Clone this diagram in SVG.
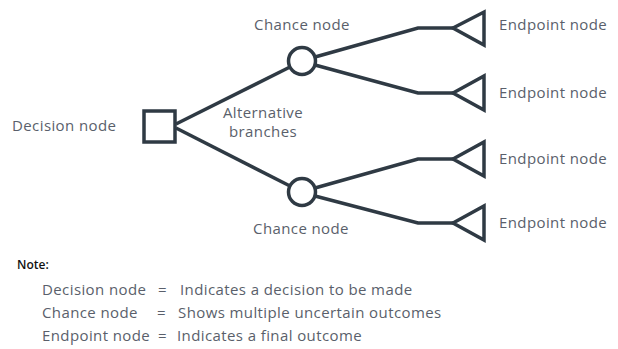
<svg xmlns="http://www.w3.org/2000/svg" width="618" height="349" viewBox="0 0 618 349">
<style>
.s{fill:none;stroke:#2f3a44;stroke-width:3.5;stroke-linejoin:miter}
.t{font-family:"Open Sans",sans-serif;font-size:15px;letter-spacing:0.4px;fill:#5a5f6b}
.n{font-family:"Open Sans",sans-serif;font-size:12px;fill:#111;font-weight:600}
</style>
<rect width="618" height="349" fill="#fff"/>
<g id="connectors" class="s">
<path d="M176,124 L290,67"/>
<path d="M176,128 L290,186"/>
<path d="M315,57 L418,28 L453,28"/>
<path d="M315,65 L418,93 L453,93"/>
<path d="M315,188 L418,159 L453,159"/>
<path d="M315,196 L418,223 L453,223"/>
</g>
<g id="decision"><rect class="s" x="144" y="111" width="31" height="31"/><text class="t" x="12" y="131">Decision node</text></g>
<g id="chance1"><circle class="s" cx="302" cy="61" r="13.5"/><text class="t" x="302" y="30" text-anchor="middle">Chance node</text></g>
<g id="chance2"><circle class="s" cx="302" cy="192" r="13.5"/><text class="t" x="301" y="234" text-anchor="middle">Chance node</text></g>
<g id="branches"><text class="t" x="263" y="118" text-anchor="middle">Alternative</text><text class="t" x="263" y="137" text-anchor="middle">branches</text></g>
<g id="end1"><path class="s" d="M453,28 L484,12 L484,45 Z"/><text class="t" x="499" y="30">Endpoint node</text></g>
<g id="end2"><path class="s" d="M453,93 L484,76 L484,110 Z"/><text class="t" x="499" y="98">Endpoint node</text></g>
<g id="end3"><path class="s" d="M453,159 L484,142 L484,176 Z"/><text class="t" x="499" y="164">Endpoint node</text></g>
<g id="end4"><path class="s" d="M453,223 L484,206 L484,240 Z"/><text class="t" x="499" y="228">Endpoint node</text></g>
<g id="legend">
<text class="n" x="17" y="269">Note:</text>
<text class="t" x="42" y="295">Decision node</text><text class="t" x="158" y="295">=</text><text class="t" x="180" y="295">Indicates a decision to be made</text>
<text class="t" x="42" y="318">Chance node</text><text class="t" x="157" y="318">=</text><text class="t" x="178" y="318">Shows multiple uncertain outcomes</text>
<text class="t" x="42" y="341">Endpoint node</text><text class="t" x="158" y="341">=</text><text class="t" x="177" y="341">Indicates a final outcome</text>
</g>
</svg>
